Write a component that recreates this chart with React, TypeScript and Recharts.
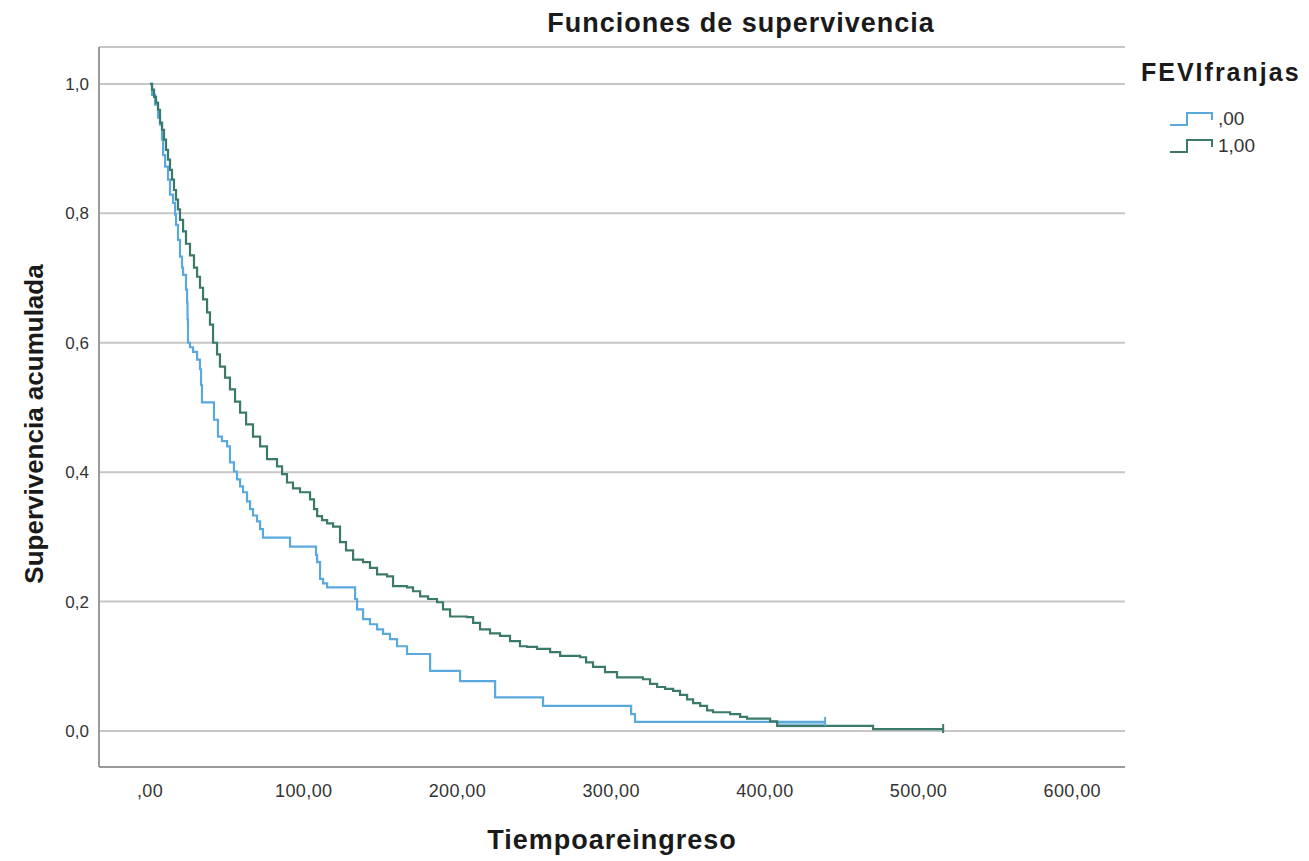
import React from "react";
import { LineChart, Line, XAxis, YAxis, CartesianGrid, Label, ReferenceArea } from "recharts";

// Survival curve, group ",00" (time, cumulative survival)
const timesG0 = [0, 1.3, 3.3, 5.2, 6.5, 7.8, 8.5, 9.8, 11.7, 13.0, 15.0, 16.3, 16.9, 18.2, 19.5, 20.8, 21.5, 23.4, 24.1, 24.4, 24.7, 26.0, 28.0, 30.6, 32.5, 33.2, 33.8, 41.6, 44.2, 46.8, 50.1, 52.0, 54.6, 56.6, 58.6, 60.5, 63.1, 65.1, 67.0, 69.6, 71.6, 73.5, 91.1, 108.0, 108.7, 110.6, 112.6, 115.2, 133.4, 134.7, 138.6, 143.1, 147.7, 151.6, 156.1, 160.7, 167.2, 182.2, 201.7, 224.5, 255.7, 313.0, 315.5, 439.2];
const survG0 = [1.0, 0.983, 0.968, 0.948, 0.937, 0.914, 0.89, 0.872, 0.852, 0.829, 0.816, 0.798, 0.782, 0.759, 0.733, 0.716, 0.705, 0.682, 0.662, 0.636, 0.6, 0.593, 0.586, 0.574, 0.559, 0.535, 0.508, 0.481, 0.455, 0.448, 0.44, 0.415, 0.401, 0.389, 0.378, 0.369, 0.355, 0.343, 0.333, 0.324, 0.312, 0.299, 0.285, 0.272, 0.261, 0.235, 0.228, 0.222, 0.204, 0.188, 0.173, 0.165, 0.157, 0.15, 0.142, 0.131, 0.119, 0.093, 0.077, 0.052, 0.039, 0.026, 0.014, 0.014];

// Survival curve, group "1,00"
const timesG1 = [0, 1.3, 2.6, 3.9, 5.2, 6.5, 7.8, 9.1, 10.4, 11.7, 13.0, 14.3, 15.6, 16.9, 18.2, 19.5, 21.5, 23.4, 26.0, 28.6, 30.6, 32.5, 34.5, 37.1, 39.0, 41.0, 43.6, 45.5, 48.8, 52.0, 55.3, 58.6, 62.5, 67.0, 71.6, 76.1, 82.6, 85.9, 89.1, 93.0, 97.6, 104.1, 106.7, 108.7, 111.9, 115.2, 119.1, 123.6, 127.5, 132.1, 138.6, 143.1, 147.7, 154.2, 158.1, 167.2, 171.1, 175.7, 180.9, 186.7, 190.6, 195.2, 206.2, 210.2, 214.7, 221.2, 227.7, 234.2, 240.7, 245.3, 251.8, 260.3, 266.8, 279.8, 283.7, 288.2, 296.0, 303.8, 320.7, 325.3, 329.9, 335.1, 340.3, 344.8, 349.4, 353.3, 357.9, 362.4, 366.3, 377.4, 383.9, 388.4, 403.4, 408.0, 470.4, 516.0];
const survG1 = [1.0, 0.991, 0.98, 0.971, 0.96, 0.94, 0.929, 0.914, 0.898, 0.883, 0.867, 0.852, 0.836, 0.821, 0.806, 0.79, 0.772, 0.753, 0.735, 0.716, 0.702, 0.685, 0.667, 0.647, 0.628, 0.6, 0.582, 0.563, 0.546, 0.528, 0.509, 0.492, 0.474, 0.455, 0.44, 0.42, 0.409, 0.397, 0.384, 0.375, 0.369, 0.358, 0.343, 0.332, 0.326, 0.321, 0.316, 0.292, 0.279, 0.265, 0.261, 0.252, 0.242, 0.239, 0.224, 0.222, 0.216, 0.208, 0.204, 0.199, 0.188, 0.177, 0.176, 0.167, 0.157, 0.151, 0.147, 0.139, 0.131, 0.13, 0.127, 0.122, 0.116, 0.114, 0.106, 0.099, 0.091, 0.083, 0.08, 0.073, 0.068, 0.065, 0.062, 0.056, 0.049, 0.043, 0.039, 0.032, 0.029, 0.026, 0.022, 0.019, 0.015, 0.008, 0.003, 0.003];

// dense censored block of group ",00"
const censorBlockX = [408, 439];
const censorBlockY = [0.006, 0.015];

const groupNames = [",00", "1,00"];
const xTicks = [0, 100, 200, 300, 400, 500, 600];
const yTicks = [0, 0.2, 0.4, 0.6, 0.8, 1.0];
const xDomain = [-33.2, 634.3];
const yDomain = [-0.0556, 1.057];

const title = "Funciones de supervivencia";
const xTitle = "Tiempoareingreso";
const yTitle = "Supervivencia acumulada";
const legendTitle = "FEVIfranjas";

const COLORS = ["#5aa9dd", "#3b7a6a"];
const FONT = "'Liberation Sans', Arial, Helvetica, sans-serif";

const dataG0 = timesG0.map((t, i) => ({ t, s: survG0[i] }));
const dataG1 = timesG1.map((t, i) => ({ t, s: survG1[i] }));

const fmtX = (v: number) => (v === 0 ? ",00" : v.toFixed(2).replace(".", ","));
const fmtY = (v: number) => v.toFixed(1).replace(".", ",");

const endTick = (len: number, color: string) => (p: any) => {
  if (p.index !== len - 1) return <g key={`d${p.index}`} />;
  return <line key={`d${p.index}`} x1={p.cx} x2={p.cx} y1={p.cy - 5} y2={p.cy + 4} stroke={color} strokeWidth={2} />;
};

const StepIcon = ({ color }: { color: string }) => (
  <svg width={48} height={18} style={{ display: "block" }}>
    <polyline points="2,15 19,15 19,3 44,3 44,10" fill="none" stroke={color} strokeWidth={2} />
  </svg>
);

export default function App() {
  return (
    <div style={{ position: "absolute", left: 0, top: 0, width: 1309, height: 861, background: "#fff", fontFamily: FONT }}>
      <LineChart width={1309} height={861} margin={{ top: 47, right: 184, bottom: 0, left: 0 }}>
        <CartesianGrid vertical={false} stroke="#c6c6c6" strokeWidth={2} />
        <XAxis
          type="number"
          dataKey="t"
          domain={xDomain}
          ticks={xTicks}
          allowDataOverflow
          height={94}
          tickLine={false}
          tickSize={6}
          tickMargin={11}
          axisLine={{ stroke: "#9a9a9a", strokeWidth: 2 }}
          tickFormatter={fmtX}
          tick={{ fill: "#333", fontSize: 18, fontFamily: FONT, letterSpacing: 0.4 }}
        >
          <Label
            content={() => (
              <text x={612} y={849} textAnchor="middle" fontFamily={FONT} fontWeight="bold" fontSize={27} letterSpacing={1} fill="#1a1a1a">
                {xTitle}
              </text>
            )}
          />
        </XAxis>
        <YAxis
          type="number"
          domain={yDomain}
          ticks={yTicks}
          allowDataOverflow
          width={99}
          tickLine={false}
          tickSize={6}
          tickMargin={4}
          axisLine={{ stroke: "#9a9a9a", strokeWidth: 2 }}
          tickFormatter={fmtY}
          tick={{ fill: "#333", fontSize: 17, fontFamily: FONT }}
        >
          <Label
            content={() => (
              <text x={34} y={424} transform="rotate(-90 34 424)" textAnchor="middle" dominantBaseline="central" fontFamily={FONT} fontWeight="bold" fontSize={26} fill="#1a1a1a">
                {yTitle}
              </text>
            )}
          />
        </YAxis>
        <ReferenceArea x1={censorBlockX[0]} x2={censorBlockX[1]} y1={censorBlockY[0]} y2={censorBlockY[1]} fill="#8cc2e8" fillOpacity={0.8} stroke="none" ifOverflow="hidden" />
        <Line data={dataG0} dataKey="s" type="stepAfter" stroke={COLORS[0]} strokeWidth={2.2} dot={endTick(dataG0.length, COLORS[0])} activeDot={false} isAnimationActive={false} name={groupNames[0]} />
        <Line data={dataG1} dataKey="s" type="stepAfter" stroke={COLORS[1]} strokeWidth={2.2} dot={endTick(dataG1.length, COLORS[1])} activeDot={false} isAnimationActive={false} name={groupNames[1]} />
      </LineChart>

      <div style={{ position: "absolute", left: 0, top: 7, width: 1482, textAlign: "center", fontSize: 27, fontWeight: "bold", letterSpacing: 1, color: "#1a1a1a", lineHeight: "32px" }}>
        {title}
      </div>

      <div style={{ position: "absolute", left: 1141, top: 56, color: "#1a1a1a" }}>
        <div style={{ fontSize: 25, fontWeight: "bold", letterSpacing: 2, lineHeight: "32px" }}>{legendTitle}</div>
      </div>
      {groupNames.map((g, i) => (
        <div key={g} style={{ position: "absolute", left: 1168, top: 107 + i * 27, display: "flex", alignItems: "center", height: 24 }}>
          <StepIcon color={COLORS[i]} />
          <span style={{ fontSize: 19, color: "#333", marginLeft: 2, lineHeight: "24px" }}>{g}</span>
        </div>
      ))}
    </div>
  );
}
